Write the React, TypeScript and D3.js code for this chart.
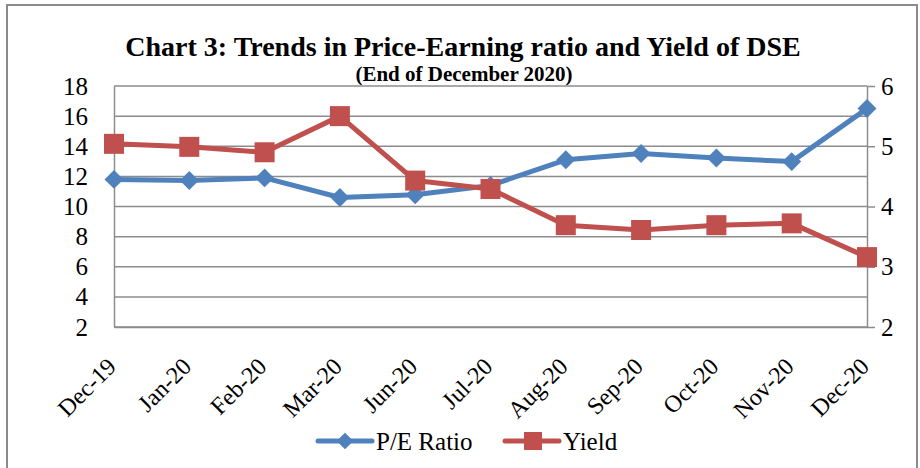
import React, { useEffect, useRef } from "react";
import * as d3 from "d3";

const months = ["Dec-19", "Jan-20", "Feb-20", "Mar-20", "Jun-20", "Jul-20", "Aug-20", "Sep-20", "Oct-20", "Nov-20", "Dec-20"];
const peRatio = [11.8, 11.72, 11.9, 10.6, 10.78, 11.4, 13.1, 13.52, 13.22, 12.98, 16.5];
const yieldPct = [5.04, 4.99, 4.9, 5.5, 4.43, 4.29, 3.69, 3.61, 3.69, 3.72, 3.16];
const leftTicks = [2, 4, 6, 8, 10, 12, 14, 16, 18];
const rightTicks = [2, 3, 4, 5, 6];

const BLUE = "#4F81BD";
const RED = "#C0504D";
const GRID = "#8c8c8c";
const FONT = "'Liberation Serif', 'Times New Roman', serif";

const App = () => {
  const ref = useRef<SVGSVGElement>(null);

  useEffect(() => {
    const svg = d3.select(ref.current);
    svg.selectAll("*").remove();

    const margin = { top: 86, right: 53, bottom: 141, left: 114 };
    const W = 920;
    const H = 468;
    const width = W - margin.left - margin.right;
    const height = H - margin.top - margin.bottom;

    svg
      .append("rect")
      .attr("x", 7)
      .attr("y", 5)
      .attr("width", 910)
      .attr("height", 470)
      .attr("fill", "white")
      .attr("stroke", "#8a8a8a")
      .attr("stroke-width", 2);

    svg
      .append("text")
      .attr("x", 463)
      .attr("y", 56)
      .attr("text-anchor", "middle")
      .style("font-family", FONT)
      .style("font-weight", "bold")
      .style("font-size", "28px")
      .text("Chart 3: Trends in Price-Earning ratio and Yield of DSE");

    svg
      .append("text")
      .attr("x", 464)
      .attr("y", 81)
      .attr("text-anchor", "middle")
      .style("font-family", FONT)
      .style("font-weight", "bold")
      .style("font-size", "21px")
      .text("(End of December 2020)");

    const g = svg.append("g").attr("transform", `translate(${margin.left},${margin.top})`);

    const x = d3.scalePoint().domain(months).range([0, width]);
    const yL = d3.scaleLinear().domain([2, 18]).range([height, 0]);
    const yR = d3.scaleLinear().domain([2, 6]).range([height, 0]);

    // gridlines
    g.selectAll("line.grid")
      .data(leftTicks)
      .join("line")
      .attr("class", "grid")
      .attr("x1", 0)
      .attr("x2", width)
      .attr("y1", (d) => yL(d))
      .attr("y2", (d) => yL(d))
      .attr("stroke", GRID)
      .attr("stroke-width", 1.5);

    // left axis
    const left = g.append("g").call(d3.axisLeft(yL).tickValues(leftTicks).tickSize(0).tickPadding(26));
    left.select(".domain").attr("stroke", GRID).attr("stroke-width", 1.5);
    left.selectAll("text").style("font-family", FONT).style("font-size", "25px").attr("fill", "#000");

    // right axis
    const right = g
      .append("g")
      .attr("transform", `translate(${width},0)`)
      .call(d3.axisRight(yR).tickValues(rightTicks).tickFormat(d3.format("d")).tickSize(8).tickSizeOuter(0).tickPadding(6));
    right.select(".domain").attr("stroke", GRID).attr("stroke-width", 1.5);
    right.selectAll("line").attr("stroke", GRID).attr("stroke-width", 1.5);
    right.selectAll("text").style("font-family", FONT).style("font-size", "25px").attr("fill", "#000");

    // bottom axis
    const bottom = g
      .append("g")
      .attr("transform", `translate(0,${height})`)
      .call(d3.axisBottom(x).tickSize(0).tickPadding(0));
    bottom.select(".domain").attr("stroke", GRID).attr("stroke-width", 1.5);
    bottom
      .selectAll("text")
      .style("font-family", FONT)
      .style("font-size", "24px")
      .attr("fill", "#000")
      .attr("text-anchor", "end")
      .attr("dy", "0")
      .attr("transform", "translate(3,41) rotate(-45)");

    const lineL = d3
      .line<number>()
      .x((_, i) => x(months[i])!)
      .y((d) => yL(d));
    const lineR = d3
      .line<number>()
      .x((_, i) => x(months[i])!)
      .y((d) => yR(d));

    g.append("path")
      .datum(peRatio)
      .attr("d", lineL)
      .attr("fill", "none")
      .attr("stroke", BLUE)
      .attr("stroke-width", 5)
      .attr("stroke-linejoin", "round");

    g.selectAll("path.pe")
      .data(peRatio)
      .join("path")
      .attr("class", "pe")
      .attr("d", d3.symbol(d3.symbolSquare, 180)())
      .attr("transform", (d, i) => `translate(${x(months[i])},${yL(d)}) rotate(45)`)
      .attr("fill", BLUE);

    g.append("path")
      .datum(yieldPct)
      .attr("d", lineR)
      .attr("fill", "none")
      .attr("stroke", RED)
      .attr("stroke-width", 5)
      .attr("stroke-linejoin", "round");

    g.selectAll("rect.yl")
      .data(yieldPct)
      .join("rect")
      .attr("class", "yl")
      .attr("x", (d, i) => x(months[i])! - 10)
      .attr("y", (d) => yR(d) - 10)
      .attr("width", 20)
      .attr("height", 20)
      .attr("fill", RED);

    // legend
    const legend = svg.append("g");
    const items = [
      { label: "P/E Ratio", color: BLUE, x: 318, diamond: true },
      { label: "Yield", color: RED, x: 505, diamond: false },
    ];
    items.forEach((it) => {
      const lg = legend.append("g").attr("transform", `translate(${it.x},441)`);
      lg.append("line")
        .attr("x1", 0)
        .attr("x2", 54)
        .attr("stroke", it.color)
        .attr("stroke-width", 5)
        .attr("stroke-linecap", "round");
      if (it.diamond) {
        lg.append("path")
          .attr("d", d3.symbol(d3.symbolSquare, 140)())
          .attr("transform", "translate(27,0) rotate(45)")
          .attr("fill", it.color);
      } else {
        lg.append("rect").attr("x", 19).attr("y", -9).attr("width", 18).attr("height", 18).attr("fill", it.color);
      }
      lg.append("text")
        .attr("x", 58)
        .attr("y", 9)
        .style("font-family", FONT)
        .style("font-size", "25px")
        .text(it.label);
    });
  }, []);

  return (
    <svg
      ref={ref}
      width={920}
      height={468}
      style={{ position: "absolute", left: 0, top: 0, background: "white" }}
    />
  );
};

export default App;
